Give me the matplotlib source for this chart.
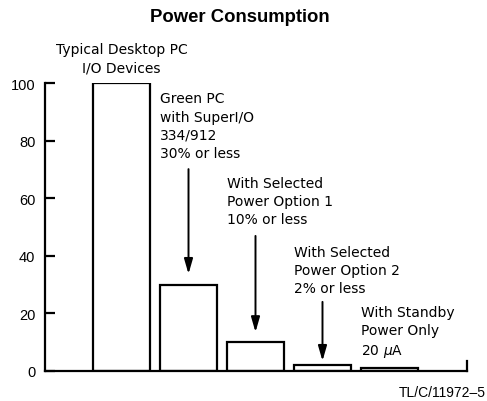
import numpy as np
import matplotlib
matplotlib.use("Agg")
import matplotlib.pyplot as plt

# Data
values = [100, 30, 10, 2, 1]
bar_labels = [
    "Typical Desktop PC\nI/O Devices",
    "Green PC\nwith SuperI/O\n334/912\n30% or less",
    "With Selected\nPower Option 1\n10% or less",
    "With Selected\nPower Option 2\n2% or less",
    "With Standby\nPower Only\n20 $\\mu$A",
]
label_y = [108.5, 85.2, 59.0, 35.1, 13.6]   # block centres, data units
arrow_from = [None, 70.1, 46.9, 24.0, None]
arrow_to = [None, 33.7, 13.5, 3.5, None]
yticks = [0, 20, 40, 60, 80, 100]

W, H = 487, 402
fig = plt.figure(figsize=(W / 100, H / 100), dpi=100)
ax = fig.add_axes([45 / W, 30 / H, 422 / W, 288 / H])

x = np.arange(len(values))
width = 0.85
lw = 1.6
ax.bar(x, values, width=width, facecolor="white", edgecolor="black", linewidth=lw)

ax.set_xlim(-1.142, 5.157)
ax.set_ylim(0, 100)
ax.set_xticks([])
ax.set_yticks(yticks)
ax.tick_params(axis="y", direction="in", length=7.5, width=lw, pad=7)
for t in ax.get_yticklabels():
    t.set_fontfamily("Liberation Sans")
    t.set_fontsize(10.5)

for s in ["top", "right"]:
    ax.spines[s].set_visible(False)
for s in ["left", "bottom"]:
    ax.spines[s].set_linewidth(lw)
    ax.spines[s].set_capstyle("projecting")

# little upright stub at the right end of the baseline
ax.plot([1, 1], [0, 0.036], transform=ax.transAxes, color="black", lw=lw,
        clip_on=False, solid_capstyle="projecting")

# bar captions
for i, txt in enumerate(bar_labels):
    if i == 0:
        ax.text(x[i], label_y[i], txt, ha="center", va="center", fontsize=10,
                linespacing=1.38, clip_on=False)
    else:
        ax.text(x[i] - width / 2, label_y[i], txt, ha="left", va="center",
                fontsize=10, linespacing=1.38, clip_on=False)
    if arrow_from[i] is not None:
        ax.annotate("", xy=(x[i], arrow_to[i]), xytext=(x[i], arrow_from[i]),
                    arrowprops=dict(arrowstyle="-|>,head_length=0.45,head_width=0.13",
                                    mutation_scale=20, lw=1.4, color="black",
                                    shrinkA=0, shrinkB=0))

fig.text(239.5 / W, 1 - 17 / H, "Power Consumption", ha="center", va="center",
         fontsize=13.3, fontweight="bold", family="Liberation Sans")
fig.text(486 / W, 1 - 393 / H, "TL/C/11972\u20135", ha="right", va="center",
         fontsize=10, family="Liberation Sans")

fig.savefig("out.png", dpi=100)
